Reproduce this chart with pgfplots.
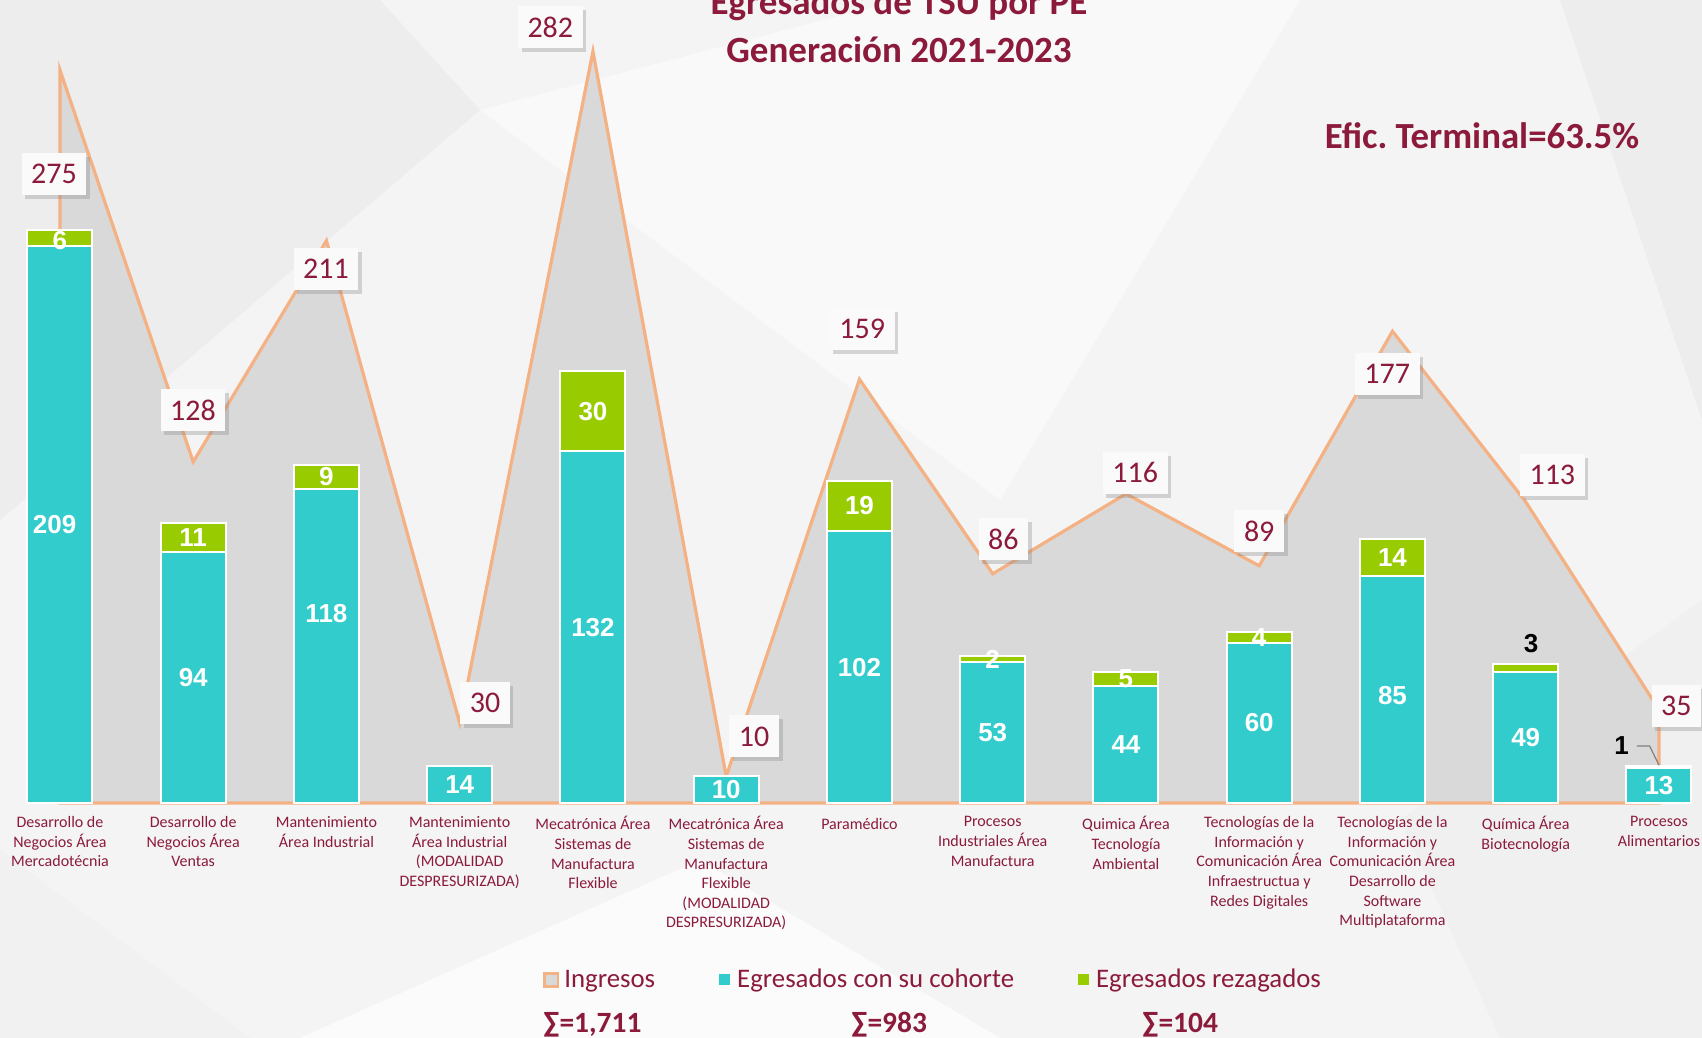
\documentclass[border=0pt]{standalone}
\usepackage{pgfplots}
\pgfplotsset{compat=1.18}
\usepackage{pgfplotstable}
\usepackage{fontspec}
\setmainfont{Carlito}
\newfontfamily\arialfont{Liberation Sans}
\usetikzlibrary{shadows}
\definecolor{dred}{HTML}{8B1A3B}
\definecolor{cyanbar}{HTML}{33CCCC}
\definecolor{greenbar}{HTML}{99CC00}
\definecolor{orline}{HTML}{F4B183}
\definecolor{areagray}{HTML}{D9D9D9}

\pgfplotstableread{
x ing coh rez
0 275 209 6
1 128 94 11
2 211 118 9
3 30 14 0
4 282 132 30
5 10 10 0
6 159 102 19
7 86 53 2
8 116 44 5
9 89 60 4
10 177 85 14
11 113 49 3
12 35 13 1
}\datatable

\pgfplotsset{base/.style={
  scale only axis, width=851pt, height=401.5pt,
  xmin=-0.45, xmax=12.323, ymin=0, ymax=301.3,
  axis line style={draw=none}, tick style={draw=none},
  ytick=\empty, clip=false, at={(0,0)}, anchor=south west,
}}

\tikzset{
  ilab/.style={fill=white!96!gray, font=\fontsize{15}{15}\selectfont, text=dred,
    inner xsep=4.8pt, inner ysep=0pt, minimum height=21pt,
    drop shadow={opacity=0.3, shadow xshift=1.8pt, shadow yshift=-2pt}},
  blab/.style={font=\arialfont\bfseries\fontsize{13}{13}\selectfont, text=white, inner sep=0pt},
  klab/.style={font=\arialfont\bfseries\fontsize{13}{13}\selectfont, text=black, inner sep=0pt},
}

\begin{document}
\begin{tikzpicture}
\useasboundingbox (0,-117.5pt) rectangle (851pt,401.5pt);
\clip (0,-117.5pt) rectangle (851pt,401.5pt);
% background
\begin{scope}[x=0.5pt, y=-0.5pt, shift={(0,401.5pt)}]
  \fill[white!95.5!black] (0,0) rectangle (1702,1038);
  \fill[white!93!black] (0,0) -- (380,0) -- (480,110) -- (0,520) -- cycle;
  \fill[white!97.5!black] (480,110) -- (900,0) -- (1300,0) -- (1000,500) -- cycle;
  \fill[white!98.5!black] (300,1038) -- (700,860) -- (1000,1038) -- cycle;
  \fill[white!93!black] (1560,0) -- (1702,0) -- (1702,420) -- cycle;
  \fill[white!94!black] (1400,820) -- (1702,600) -- (1702,1038) -- (1500,1038) -- cycle;
  \fill[white!94.5!black] (0,850) -- (250,1038) -- (0,1038) -- cycle;
\end{scope}

% area: Ingresos
\begin{axis}[base, xtick=\empty]
\addplot[fill=areagray, draw=orline, line width=1.6pt, line join=miter] table[x=x, y=ing]{\datatable} \closedcycle;
\end{axis}

% bars
\begin{axis}[base, ybar stacked, bar width=32.5pt,
  xtick={0,...,12},
  xticklabels={{Desarrollo de\\Negocios Área\\Mercadotécnia},
    {Desarrollo de\\Negocios Área\\Ventas},
    {Mantenimiento\\Área Industrial},
    {Mantenimiento\\Área Industrial\\(MODALIDAD\\DESPRESURIZADA)},
    {Mecatrónica Área\\Sistemas de\\Manufactura\\Flexible},
    {Mecatrónica Área\\Sistemas de\\Manufactura\\Flexible\\(MODALIDAD\\DESPRESURIZADA)},
    {Paramédico},
    {Procesos\\Industriales Área\\Manufactura},
    {Quimica Área\\Tecnología\\Ambiental},
    {Tecnologías de la\\Información y\\Comunicación Área\\Infraestructua y\\Redes Digitales},
    {Tecnologías de la\\Información y\\Comunicación Área\\Desarrollo de\\Software\\Multiplataforma},
    {Química Área\\Biotecnología},
    {Procesos\\Alimentarios}},
  xticklabel style={align=center, font=\fontsize{8}{9.8}\selectfont, text=dred, inner sep=0pt, yshift=-6.6pt,
    execute at begin node={\vphantom{Á}}},
  legend columns=3,
  legend style={at={(0.319,-0.2204)}, anchor=west, draw=none, fill=none, inner sep=0pt,
    font=\fontsize{13.4}{14}\selectfont, text=dred,
    nodes={inner xsep=2.5pt},
    /tikz/every even column/.append style={column sep=28.4pt}},
]
\addlegendimage{legend image code/.code={\draw[fill=areagray, draw=orline, line width=1.4pt] (0.7pt,-3.3pt) rectangle (7.3pt,3.3pt);}}
\addlegendentry{Ingresos}
\addlegendimage{legend image code/.code={\fill[cyanbar, draw=none] (0.9pt,-2.75pt) rectangle (6.4pt,2.75pt); \path[draw=none, fill=none] (0pt,0pt) -- (7.6pt,0pt);}}
\addlegendentry{Egresados con su cohorte}
\addlegendimage{legend image code/.code={\fill[greenbar, draw=none] (0.9pt,-2.75pt) rectangle (6.4pt,2.75pt); \path[draw=none, fill=none] (0pt,0pt) -- (7.6pt,0pt);}}
\addlegendentry{Egresados rezagados}
\addplot[forget plot, fill=cyanbar, draw=white, line width=1pt] table[x=x, y=coh]{\datatable};
\addplot[forget plot, fill=greenbar, draw=white, line width=1pt] table[x=x, y=rez]{\datatable};
\end{axis}

% labels on top
\begin{axis}[base, xtick=\empty]
\node[blab] at (axis cs:-0.04,104.5) {209};
\node[blab] at (axis cs:1,47) {94};
\node[blab] at (axis cs:2,71) {118};
\node[blab] at (axis cs:3,7) {14};
\node[blab] at (axis cs:4,66) {132};
\node[blab] at (axis cs:5,5) {10};
\node[blab] at (axis cs:6,51) {102};
\node[blab] at (axis cs:7,26.5) {53};
\node[blab] at (axis cs:8,22) {44};
\node[blab] at (axis cs:9,30) {60};
\node[blab] at (axis cs:10,40.5) {85};
\node[blab] at (axis cs:11,24.5) {49};
\node[blab] at (axis cs:12,6.5) {13};
\node[blab] at (axis cs:0,211) {6};
\node[blab] at (axis cs:1,99.5) {11};
\node[blab] at (axis cs:2,122.5) {9};
\node[blab] at (axis cs:4,147) {30};
\node[blab] at (axis cs:6,111.5) {19};
\node[blab] at (axis cs:7,54) {2};
\node[blab] at (axis cs:8,46.5) {5};
\node[blab] at (axis cs:9,62) {4};
\node[blab] at (axis cs:10,92) {14};
\node[klab] at (axis cs:11.04,59.8) {3};
\node[klab] at (axis cs:11.72,21.4) {1};
\draw[gray, line width=0.6pt] (axis cs:11.835,21.4) -- (axis cs:11.93,21.4) -- (axis cs:12,14.2);

\node[ilab] at (axis cs:-0.045,236) {275};
\node[ilab] at (axis cs:0.998,147.5) {128};
\node[ilab] at (axis cs:1.996,200.4) {211};
\node[ilab] at (axis cs:3.19,37.5) {30};
\node[ilab] at (axis cs:3.68,291) {282};
\node[ilab] at (axis cs:5.21,25) {10};
\node[ilab] at (axis cs:6.02,178) {159};
\node[ilab] at (axis cs:7.08,99) {86};
\node[ilab] at (axis cs:8.07,124) {116};
\node[ilab] at (axis cs:9.0,102) {89};
\node[ilab] at (axis cs:9.96,161) {177};
\node[ilab] at (axis cs:11.2,123) {113};
\node[ilab] at (axis cs:12.13,36.4) {35};
\end{axis}

% titles and notes
\node[anchor=base, font=\bfseries\fontsize{18.5}{18.5}\selectfont, text=dred] at (449.5pt,394pt) {Egresados de TSU por PE};
\node[anchor=base, font=\bfseries\fontsize{18.5}{18.5}\selectfont, text=dred] at (449.5pt,370pt) {Generación 2021-2023};
\node[anchor=base, font=\bfseries\fontsize{18.4}{18.4}\selectfont, text=dred] at (741pt,327pt) {Efic.\ Terminal=63.5\%};
\node[anchor=base west, inner sep=0pt, font=\bfseries\fontsize{14.7}{14.7}\selectfont, text=dred] at (271.5pt,-114.5pt) {∑=1,711};
\node[anchor=base west, inner sep=0pt, font=\bfseries\fontsize{14.7}{14.7}\selectfont, text=dred] at (425.5pt,-114.5pt) {∑=983};
\node[anchor=base west, inner sep=0pt, font=\bfseries\fontsize{14.7}{14.7}\selectfont, text=dred] at (571pt,-114.5pt) {∑=104};
\end{tikzpicture}
\end{document}
